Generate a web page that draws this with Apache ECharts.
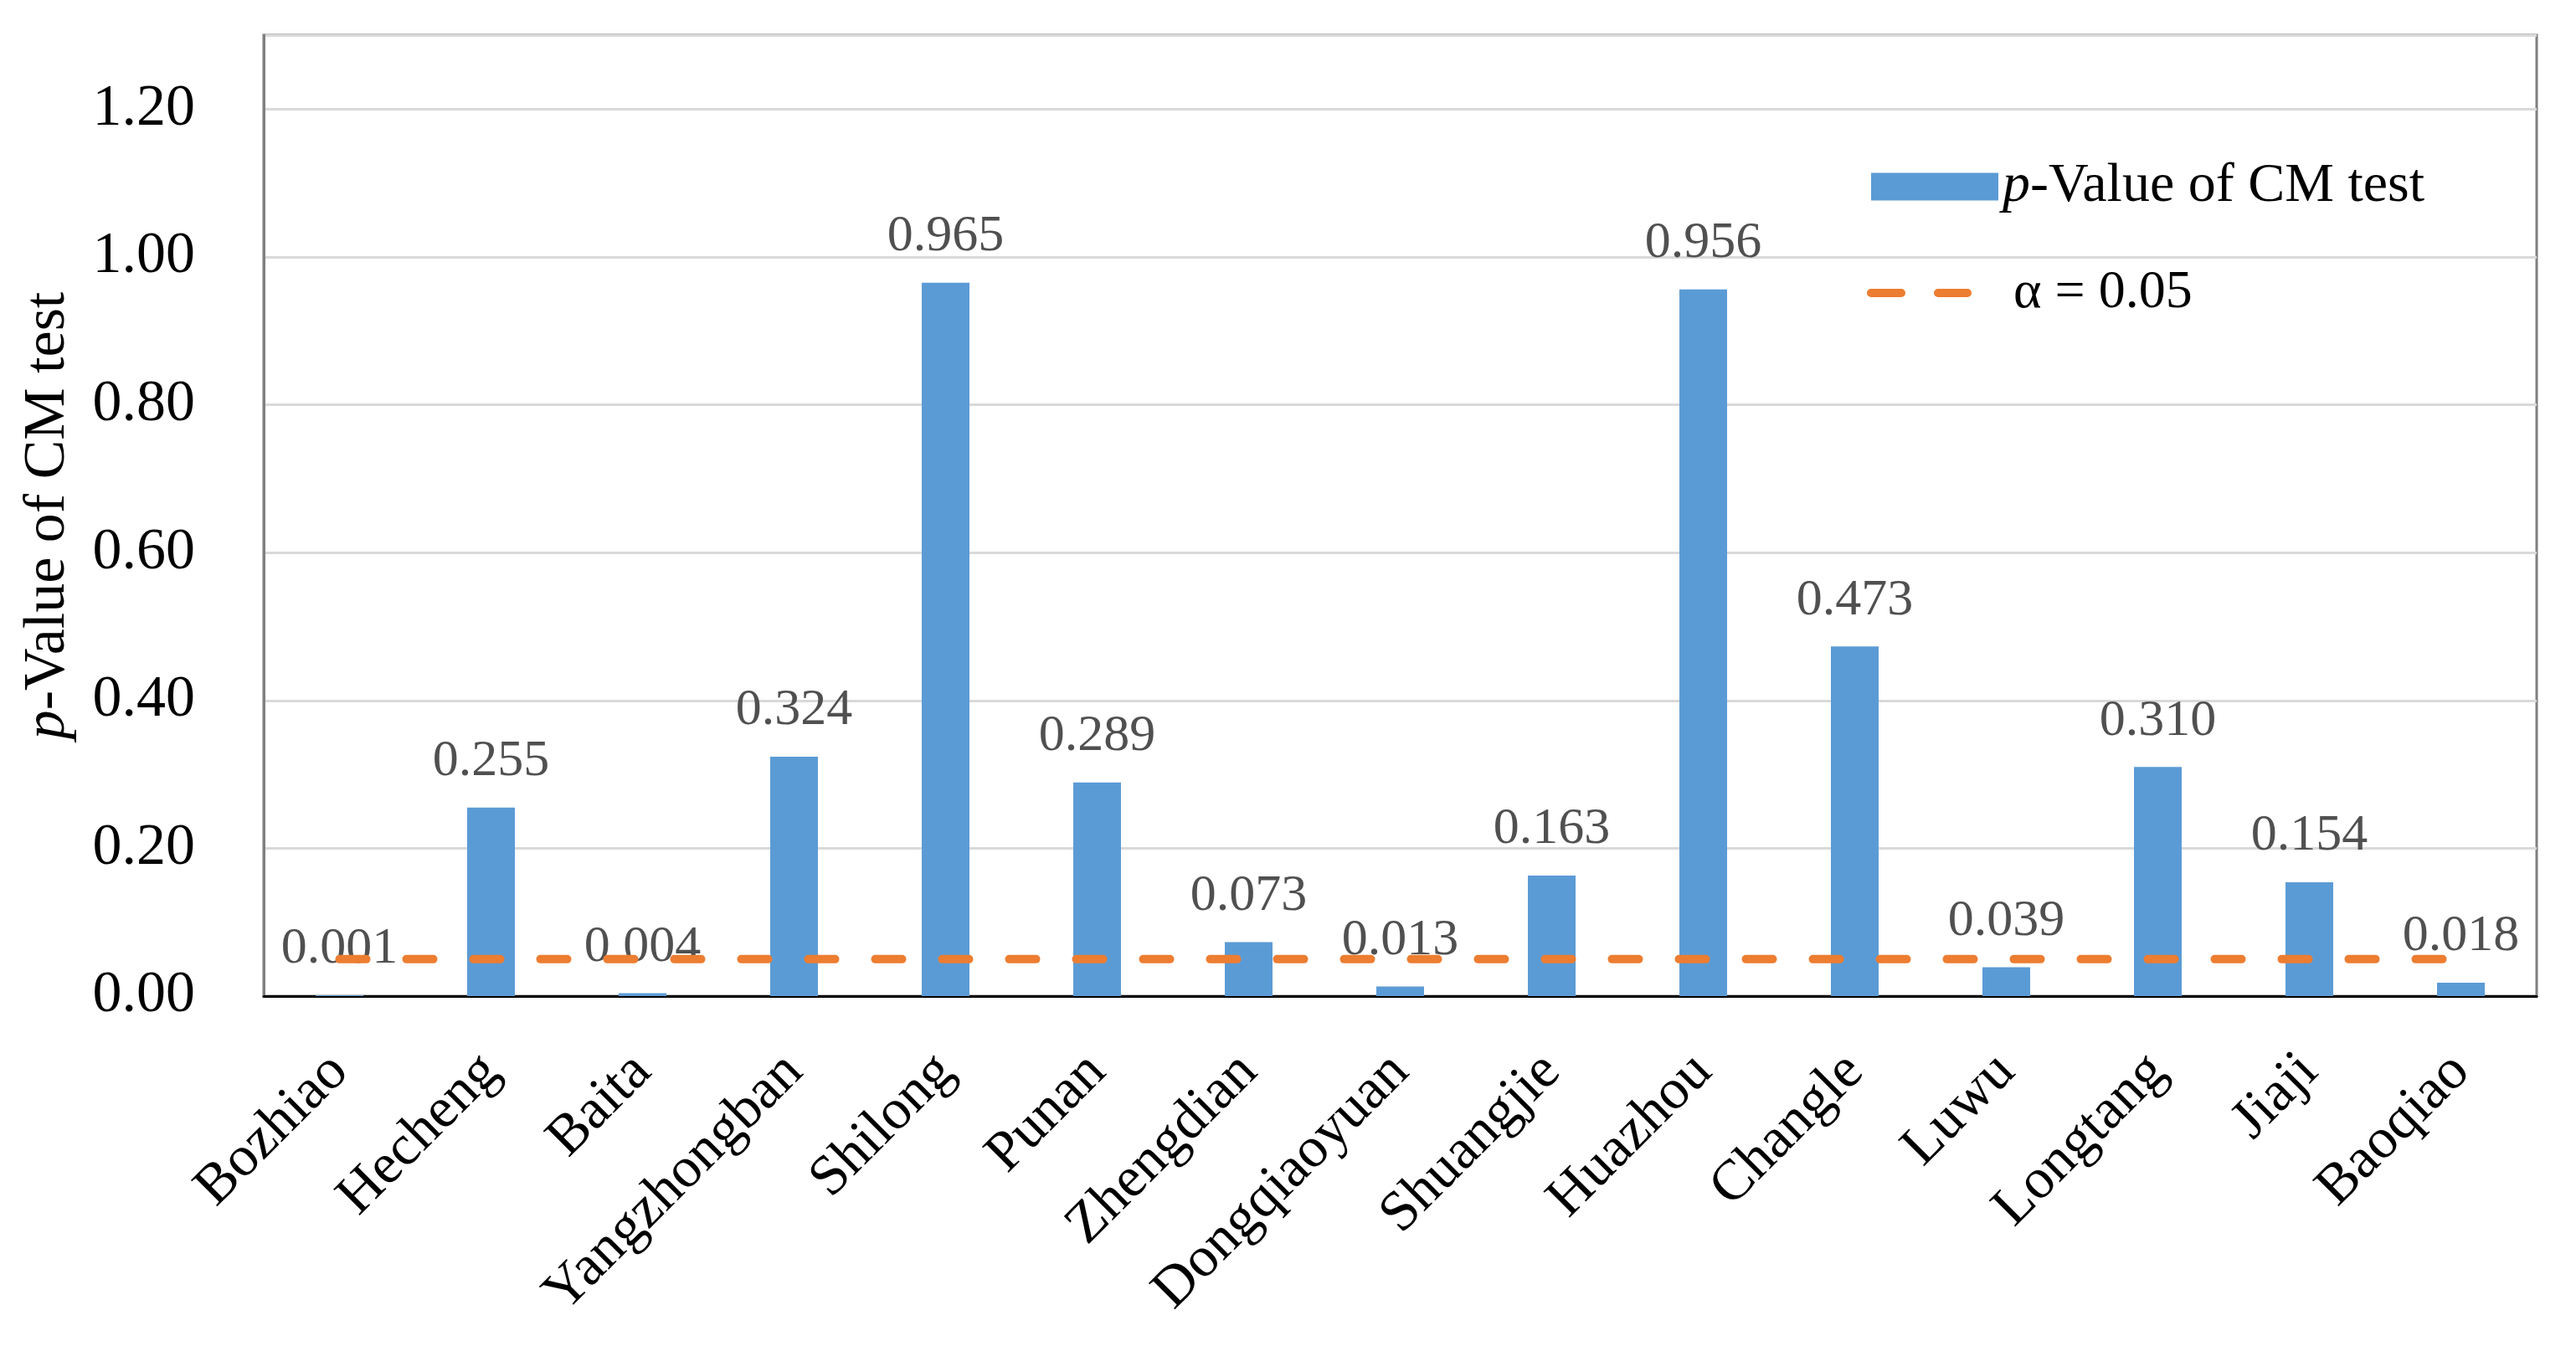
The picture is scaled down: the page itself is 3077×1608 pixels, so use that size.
<!DOCTYPE html>
<html>
<head>
<meta charset="utf-8">
<script src="https://cdn.jsdelivr.net/npm/echarts@6/dist/echarts.min.js"></script>
<style>
html,body{margin:0;padding:0;background:#fff;}
#chart{width:3077px;height:1608px;}
</style>
</head>
<body>
<div id="chart"></div>
<script>
const categories = ['Bozhiao','Hecheng','Baita','Yangzhongban','Shilong','Punan','Zhengdian','Dongqiaoyuan','Shuangjie','Huazhou','Changle','Luwu','Longtang','Jiaji','Baoqiao'];
const pValues = [0.001,0.255,0.004,0.324,0.965,0.289,0.073,0.013,0.163,0.956,0.473,0.039,0.310,0.154,0.018];
const alphaLevel = [0.05,0.05,0.05,0.05,0.05,0.05,0.05,0.05,0.05,0.05,0.05,0.05,0.05,0.05,0.05];
const yTicks = [0,0.2,0.4,0.6,0.8,1.0,1.2];

const FONT = '"Liberation Serif","Times New Roman",Times,serif';
const DASH_ICON = 'path://M5,0L41,0A5,5,0,0,1,41,10L5,10A5,5,0,0,1,5,0Z M85,0L120,0A5,5,0,0,1,120,10L85,10A5,5,0,0,1,85,0Z';
const chart = echarts.init(document.getElementById('chart'));
chart.setOption({
  backgroundColor:'#ffffff',
  animation:false,
  grid:{left:315,right:47,top:42,bottom:418,show:true,borderColor:'#7f7f7f',borderWidth:3},
  legend:[{
    data:[{name:'pval',icon:'rect'}],
    left:2235, top:188, padding:0,
    itemWidth:152, itemHeight:33,
    formatter:function(){return '{i|p}-Value of CM test';},
    textStyle:{fontFamily:FONT,fontSize:66,color:'#000',lineHeight:70,
      rich:{i:{fontFamily:FONT,fontSize:66,fontStyle:'italic',color:'#000',lineHeight:70}}}
  },{
    data:[{name:'alpha',icon:DASH_ICON,itemStyle:{color:'#ed7d31'}}],
    left:2230, top:315, padding:0,
    itemWidth:125, itemHeight:10,
    formatter:function(){return 'α = 0.05';},
    textStyle:{fontFamily:FONT,fontSize:64,color:'#000',lineHeight:70,padding:[0,0,0,45]}
  }],
  xAxis:{
    type:'category',
    data:categories,
    axisLine:{lineStyle:{color:'#000',width:3}},
    axisTick:{show:false},
    axisLabel:{rotate:45,interval:0,margin:80,fontFamily:FONT,fontSize:68,color:'#000'}
  },
  yAxis:{
    type:'value',
    min:0,max:1.3,interval:0.2,
    name:'{i|p}-Value of CM test',
    nameLocation:'middle',nameGap:222,
    nameTextStyle:{fontFamily:FONT,fontSize:70,color:'#000',
      rich:{i:{fontFamily:FONT,fontSize:70,fontStyle:'italic',color:'#000'}}},
    axisLine:{show:true,lineStyle:{color:'#7f7f7f',width:3}},
    axisTick:{show:false},
    splitLine:{lineStyle:{color:'#d9d9d9',width:3}},
    axisLabel:{margin:82,fontFamily:FONT,fontSize:70,color:'#000',showMaxLabel:false,
      formatter:function(v){ return yTicks.some(t=>Math.abs(t-v)<1e-9) ? v.toFixed(2) : ''; }}
  },
  series:[{
    name:'pval',
    type:'bar',
    data:pValues,
    barWidth:57,
    itemStyle:{color:'#5b9bd5'},
    label:{show:true,position:'top',distance:24,fontFamily:FONT,fontSize:62,color:'#505050',
      formatter:function(p){return p.value.toFixed(3);}}
  },{
    name:'alpha',
    type:'line',
    data:alphaLevel,
    symbol:'none',
    z:5,
    lineStyle:{color:'#ed7d31',width:10,type:[32,48],cap:'round'},
    itemStyle:{color:'#ed7d31'}
  }]
});
</script>
</body>
</html>
